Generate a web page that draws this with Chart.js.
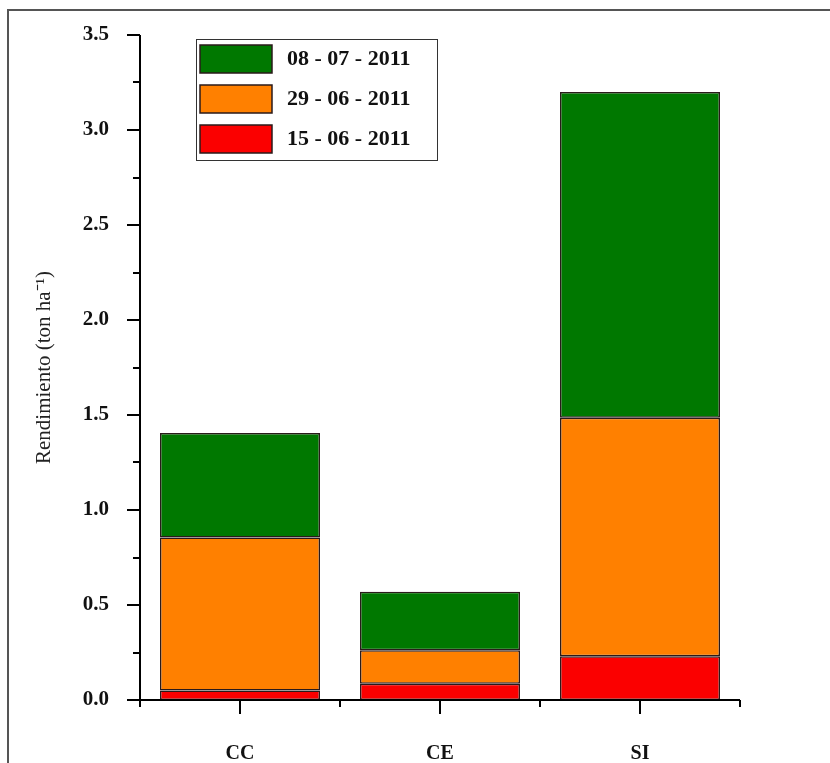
<!DOCTYPE html>
<html lang="es">
<head>
    <meta charset="UTF-8">
    <title>Rendimiento por tratamiento</title>
    <script src="https://cdn.jsdelivr.net/npm/chart.js"></script>
    <style>
        body, html {
            margin: 0;
            padding: 0;
            background: #fff;
            overflow: hidden;
        }
        /* outer frame around the figure */
        .frame {
            position: absolute;
            left: 7px;
            top: 9px;
            width: 900px;
            height: 900px;
            border: 2px solid #555;
        }
        #wrap {
            position: absolute;
            left: 0;
            top: 0;
            width: 830px;
            height: 763px;
        }
    </style>
</head>
<body>
    <div class="frame"></div>
    <div id="wrap"><canvas id="yieldChart"></canvas></div>

    <script>
        // treatments and harvest dates
        const categories = ['CC', 'CE', 'SI'];
        const harvest1 = [0.05, 0.085, 0.23];   // 15 - 06 - 2011
        const harvest2 = [0.805, 0.177, 1.255]; // 29 - 06 - 2011
        const harvest3 = [0.55, 0.308, 1.715];  // 08 - 07 - 2011
        const yTicks = [0, 0.5, 1.0, 1.5, 2.0, 2.5, 3.0, 3.5];

        const serif = "'Liberation Serif', 'Times New Roman', serif";

        // axes, tick marks and boxed legend drawn on top of the bars
        const axesPlugin = {
            id: 'axesPlugin',
            afterDatasetsDraw(chart) {
                const ctx = chart.ctx;
                const area = chart.chartArea;
                const x = chart.scales.x;
                const y = chart.scales.y;
                ctx.save();
                ctx.strokeStyle = '#000';
                ctx.lineWidth = 2;

                // y axis line and ticks
                ctx.beginPath();
                ctx.moveTo(area.left, area.top);
                ctx.lineTo(area.left, area.bottom);
                for (let v = 0; v <= 3.5001; v += 0.25) {
                    const py = Math.round(y.getPixelForValue(v));
                    const major = Math.abs(v * 2 - Math.round(v * 2)) < 1e-6;
                    ctx.moveTo(area.left - (major ? 13 : 7), py);
                    ctx.lineTo(area.left, py);
                }
                // x axis line and ticks
                ctx.moveTo(area.left - 13, area.bottom);
                ctx.lineTo(area.right, area.bottom);
                const centers = categories.map((c, i) => x.getPixelForValue(i));
                centers.forEach(cx => {
                    ctx.moveTo(cx, area.bottom);
                    ctx.lineTo(cx, area.bottom + 14);
                });
                const edges = [area.left];
                for (let i = 0; i < centers.length - 1; i++) edges.push((centers[i] + centers[i + 1]) / 2);
                edges.push(area.right);
                edges.forEach(ex => {
                    ctx.moveTo(ex, area.bottom);
                    ctx.lineTo(ex, area.bottom + 7);
                });
                ctx.stroke();

                // legend, newest harvest on top
                const lx = 196, ly = 39, lw = 241, lh = 121;
                ctx.lineWidth = 1;
                ctx.strokeStyle = '#333';
                ctx.strokeRect(lx + 0.5, ly + 0.5, lw, lh);
                const sets = chart.data.datasets.slice().reverse();
                ctx.font = 'bold 22px ' + serif;
                ctx.textBaseline = 'middle';
                ctx.textAlign = 'left';
                sets.forEach((ds, i) => {
                    const sy = 45 + i * 40;
                    ctx.fillStyle = ds.backgroundColor;
                    ctx.fillRect(200, sy, 72, 28);
                    ctx.lineWidth = 1.5;
                    ctx.strokeStyle = '#2a1a1a';
                    ctx.strokeRect(200, sy, 72, 28);
                    ctx.fillStyle = '#111';
                    ctx.fillText(ds.label, 287, sy + 14);
                });
                ctx.restore();
            }
        };

        const ctx = document.getElementById('yieldChart').getContext('2d');
        new Chart(ctx, {
            type: 'bar',
            data: {
                labels: categories,
                datasets: [
                    { label: '15 - 06 - 2011', data: harvest1, backgroundColor: '#fb0000' },
                    { label: '29 - 06 - 2011', data: harvest2, backgroundColor: '#ff8000' },
                    { label: '08 - 07 - 2011', data: harvest3, backgroundColor: '#007800' }
                ]
            },
            options: {
                responsive: true,
                maintainAspectRatio: false,
                animation: false,
                datasets: {
                    bar: {
                        categoryPercentage: 1,
                        barPercentage: 0.8,
                        borderWidth: 1.5,
                        borderColor: '#2a1a1a',
                        borderSkipped: false
                    }
                },
                layout: { padding: { left: 25, top: 35, right: 90, bottom: 0 } },
                plugins: {
                    legend: { display: false },
                    tooltip: { enabled: false }
                },
                scales: {
                    x: {
                        stacked: true,
                        grid: { display: false, drawTicks: false },
                        border: { display: false },
                        ticks: {
                            padding: 42,
                            color: '#111',
                            font: { family: serif, size: 20, weight: 'bold' }
                        },
                        afterFit(scale) { scale.height = 63; }
                    },
                    y: {
                        stacked: true,
                        min: 0,
                        max: 3.5,
                        afterBuildTicks(scale) {
                            scale.ticks = yTicks.map(v => ({ value: v }));
                        },
                        grid: { display: false, drawTicks: false },
                        border: { display: false },
                        ticks: {
                            padding: 31,
                            color: '#111',
                            font: { family: serif, size: 21, weight: 'bold' },
                            callback: v => Number(v).toFixed(1)
                        },
                        title: {
                            display: true,
                            text: 'Rendimiento (ton ha\u207B\u00B9)',
                            color: '#222',
                            padding: { top: 7, bottom: 0 },
                            font: { family: serif, size: 21 }
                        },
                        afterFit(scale) {
                            scale.width = 115;
                            // keep the plot top fixed by the layout padding only
                            scale.paddingTop = 0;
                            scale.paddingBottom = 0;
                        }
                    }
                }
            },
            plugins: [axesPlugin]
        });
    </script>
</body>
</html>
